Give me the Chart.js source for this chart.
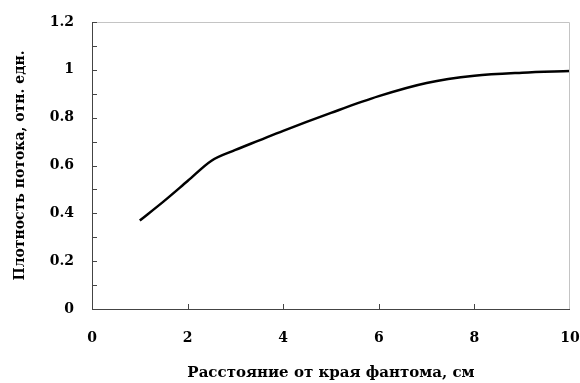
<!DOCTYPE html>
<html>
<head>
<meta charset="utf-8">
<script src="https://cdn.jsdelivr.net/npm/chart.js@4/dist/chart.umd.min.js"></script>
<style>
  html, body { margin: 0; padding: 0; background: #fff; }
  #wrap { width: 580px; height: 383px; position: relative; }
</style>
</head>
<body>
<div id="wrap"><canvas id="myChart"></canvas></div>
<script>
// distance from phantom edge, cm
var distance = [1, 1.5, 2, 2.5, 3, 3.5, 4, 5, 6, 7, 8, 9, 10];
// flux density, rel. units
var density = [0.37, 0.45, 0.535, 0.62, 0.665, 0.705, 0.745, 0.82, 0.89, 0.945, 0.975, 0.988, 0.995];

var xTicks = [0, 2, 4, 6, 8, 10];
var yTicks = [0, 0.2, 0.4, 0.6, 0.8, 1, 1.2];
var yMinorTicks = [0.1, 0.3, 0.5, 0.7, 0.9, 1.1];

var points = distance.map(function (d, i) { return { x: d, y: density[i] }; });

var FONT = 'DejaVu Serif';

// frame + inward tick marks
var framePlugin = {
    id: 'frame',
    afterDatasetsDraw: function (chart) {
        var c = chart.ctx, a = chart.chartArea;
        var xs = chart.scales.x, ys = chart.scales.y;
        c.save();
        c.lineWidth = 1;
        c.strokeStyle = '#c4c4c4';
        c.beginPath();
        c.moveTo(a.left, a.top + 0.5);
        c.lineTo(a.right - 0.5, a.top + 0.5);
        c.lineTo(a.right - 0.5, a.bottom);
        c.stroke();
        c.strokeStyle = '#444';
        c.beginPath();
        c.moveTo(a.left + 0.5, a.top);
        c.lineTo(a.left + 0.5, a.bottom + 0.5);
        c.lineTo(a.right, a.bottom + 0.5);
        yTicks.concat(yMinorTicks).forEach(function (v) {
            var py = Math.round(ys.getPixelForValue(v)) + 0.5;
            c.moveTo(a.left, py);
            c.lineTo(a.left + 5, py);
        });
        xTicks.slice(1, -1).forEach(function (v) {
            var px = Math.round(xs.getPixelForValue(v)) + 0.5;
            c.moveTo(px, a.bottom);
            c.lineTo(px, a.bottom - 5);
        });
        c.stroke();
        c.restore();
    }
};

var ctx = document.getElementById("myChart");

var chart = new Chart(ctx, {
    type: 'scatter',
    data: {
        datasets: [{
            data: points,
            showLine: true,
            borderColor: '#000',
            borderWidth: 2.5,
            pointRadius: 0,
            cubicInterpolationMode: 'monotone',
            fill: false
        }]
    },
    options: {
        responsive: true,
        maintainAspectRatio: false,
        animation: false,
        layout: { padding: { top: 22, right: 10, bottom: 0, left: 0 } },
        plugins: { legend: { display: false }, tooltip: { enabled: false } },
        scales: {
            x: {
                type: 'linear',
                min: 0,
                max: 10,
                afterBuildTicks: function (s) { s.ticks = xTicks.map(function (v) { return { value: v }; }); },
                afterFit: function (s) { s.height = 74; s.paddingLeft = 0; s.paddingRight = 0; },
                grid: { display: false, drawTicks: false },
                border: { display: false },
                ticks: {
                    color: '#000',
                    padding: 21,
                    maxRotation: 0,
                    font: { family: FONT, size: 14, weight: 'bold' }
                },
                title: {
                    display: true,
                    text: 'Расстояние от края фантома, см',
                    color: '#000',
                    padding: { top: 0, bottom: 1 },
                    font: { family: FONT, size: 15, weight: 'bold' }
                }
            },
            y: {
                min: 0,
                max: 1.2,
                afterBuildTicks: function (s) { s.ticks = yTicks.map(function (v) { return { value: v }; }); },
                afterFit: function (s) { s.width = 92; s.paddingTop = 0; s.paddingBottom = 0; },
                grid: { display: false, drawTicks: false },
                border: { display: false },
                ticks: {
                    color: '#000',
                    padding: 18,
                    font: { family: FONT, size: 14, weight: 'bold' },
                    callback: function (v) { return String(Math.round(v * 10) / 10); }
                },
                title: {
                    display: true,
                    text: 'Плотность потока, отн. едн.',
                    color: '#000',
                    padding: { top: 12, bottom: 0 },
                    font: { family: FONT, size: 14, weight: 'bold' }
                }
            }
        }
    },
    plugins: [framePlugin]
});
</script>
</body>
</html>
